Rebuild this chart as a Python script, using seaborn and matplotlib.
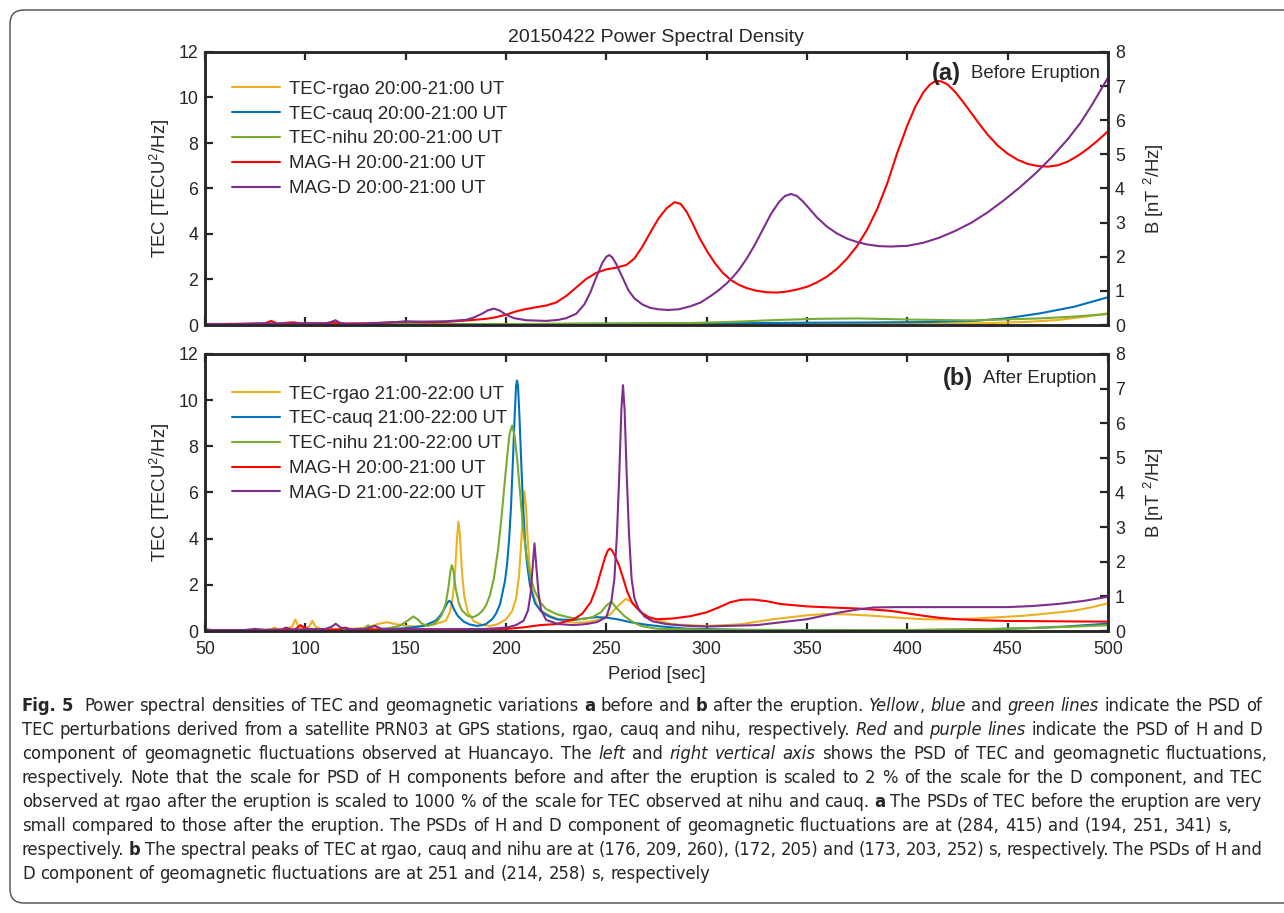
import re
import numpy as np
import pandas as pd
import matplotlib
matplotlib.use("Agg")
import matplotlib.pyplot as plt
import seaborn as sns
from matplotlib import font_manager
from matplotlib.patches import FancyBboxPatch
from matplotlib.lines import Line2D
from matplotlib.transforms import IdentityTransform

# ---------------- data ----------------
# Panel (a): before eruption. TEC in TECU^2/Hz (left axis), MAG in nT^2/Hz (right axis)
P_RGAO_A = [50, 70, 90, 110, 130, 150, 170, 190, 210, 230, 250, 270, 282, 300, 330, 360, 390, 420, 440, 460, 475, 490, 500]
V_RGAO_A = [0.02, 0.03, 0.03, 0.03, 0.03, 0.04, 0.04, 0.04, 0.04, 0.05, 0.05, 0.07, 0.09, 0.06, 0.05, 0.05, 0.05, 0.06, 0.08, 0.14, 0.22, 0.38, 0.52]

P_CAUQ_A = [50, 80, 110, 140, 170, 200, 230, 260, 290, 320, 350, 380, 410, 433, 449, 466, 483, 500]
V_CAUQ_A = [0.01, 0.02, 0.02, 0.03, 0.03, 0.04, 0.05, 0.06, 0.07, 0.08, 0.1, 0.11, 0.13, 0.18, 0.29, 0.51, 0.8, 1.22]

P_NIHU_A = [50, 80, 110, 140, 170, 200, 230, 260, 290, 316, 335, 355, 375, 400, 433, 466, 483, 500]
V_NIHU_A = [0.02, 0.02, 0.03, 0.03, 0.03, 0.04, 0.05, 0.06, 0.08, 0.15, 0.22, 0.27, 0.29, 0.24, 0.2, 0.29, 0.37, 0.48]

P_MAGH_A = [50, 60, 70, 80, 83, 86, 90, 94, 97, 100, 110, 115, 120, 130, 140, 150, 160, 170, 180, 190,
            195, 200, 205, 210, 215, 220, 225, 230, 235, 240, 245, 250, 255, 260, 264, 268, 272, 276, 280, 284,
            287, 290, 293, 296, 300, 304, 308, 312, 316, 320, 325, 330, 335, 340, 345, 350, 355, 360, 365, 370,
            375, 380, 385, 390, 395, 400, 404, 408, 411, 414, 417, 420, 424, 428, 432, 436, 440, 445, 450, 455,
            460, 465, 470, 475, 480, 485, 490, 495, 500]
V_MAGH_A = [0.03, 0.03, 0.04, 0.05, 0.12, 0.04, 0.06, 0.08, 0.05, 0.05, 0.05, 0.07, 0.04, 0.05, 0.07, 0.1, 0.08, 0.09, 0.13, 0.18,
            0.23, 0.3, 0.4, 0.47, 0.52, 0.57, 0.66, 0.85, 1.1, 1.35, 1.53, 1.63, 1.68, 1.76, 1.95, 2.3, 2.72, 3.12, 3.42, 3.6,
            3.55, 3.32, 2.98, 2.6, 2.18, 1.82, 1.53, 1.32, 1.18, 1.08, 1.0, 0.96, 0.95, 0.98, 1.04, 1.12, 1.25, 1.42, 1.65, 1.95,
            2.32, 2.8, 3.4, 4.15, 5.05, 5.85, 6.4, 6.82, 7.03, 7.15, 7.14, 7.05, 6.82, 6.52, 6.2, 5.88, 5.58, 5.26, 5.02, 4.84,
            4.72, 4.66, 4.64, 4.68, 4.79, 4.96, 5.17, 5.41, 5.68]

P_MAGD_A = [50, 60, 70, 80, 90, 100, 110, 113, 115, 117, 120, 130, 140, 150, 160, 170, 180, 184, 188, 191,
            194, 197, 200, 204, 210, 220, 226, 230, 235, 239, 242, 245, 248, 250, 251.5, 253, 255, 258, 261, 264,
            268, 272, 276, 281, 286, 292, 297, 302, 306, 310, 313, 316, 320, 324, 328, 332, 336, 339, 342, 345,
            348, 351, 355, 360, 365, 370, 375, 380, 386, 392, 400, 408, 416, 424, 432, 440, 448, 456, 464, 472,
            480, 486, 492, 496, 500]
V_MAGD_A = [0.03, 0.02, 0.03, 0.05, 0.04, 0.05, 0.05, 0.09, 0.14, 0.07, 0.04, 0.04, 0.07, 0.1, 0.1, 0.11, 0.15, 0.22, 0.33, 0.43,
            0.48, 0.42, 0.3, 0.2, 0.14, 0.12, 0.15, 0.2, 0.33, 0.6, 0.95, 1.4, 1.82, 2.0, 2.05, 1.98, 1.78, 1.4, 1.02, 0.78,
            0.6, 0.5, 0.46, 0.44, 0.46, 0.55, 0.66, 0.85, 1.02, 1.22, 1.4, 1.61, 1.95, 2.35, 2.8, 3.25, 3.6, 3.78, 3.84, 3.78,
            3.62, 3.42, 3.15, 2.88, 2.68, 2.53, 2.43, 2.36, 2.31, 2.3, 2.32, 2.41, 2.56, 2.76, 3.0, 3.3, 3.65, 4.03, 4.45, 4.92,
            5.45, 5.9, 6.45, 6.85, 7.25]

# Panel (b): after eruption
P_RGAO_B = [50, 60, 70, 80, 83, 84.7, 86.5, 90, 93.5, 95, 96.5, 99, 102, 103.5, 105, 108, 115, 125, 132, 136,
            140.5, 145, 150, 155, 160, 165, 170, 172, 173.5, 174.5, 175.5, 176.3, 177, 178, 179.2, 181, 184, 188, 192, 196,
            200, 203, 205, 206.5, 207.7, 208.5, 209.2, 209.9, 210.8, 212, 213.5, 215.5, 218, 222, 228, 234, 240, 247, 252, 256,
            259.7, 263, 267, 272, 283, 300, 317, 333, 350, 358, 370, 383, 395, 408, 420, 433, 446, 458, 470, 483,
            492, 500]
V_RGAO_B = [0.02, 0.03, 0.04, 0.05, 0.08, 0.15, 0.06, 0.06, 0.2, 0.5, 0.2, 0.1, 0.2, 0.44, 0.2, 0.08, 0.08, 0.1, 0.18, 0.3,
            0.38, 0.3, 0.22, 0.2, 0.22, 0.3, 0.45, 0.8, 1.5, 2.4, 3.9, 4.74, 4.2, 2.6, 1.5, 0.8, 0.42, 0.27, 0.22, 0.3,
            0.5, 0.85, 1.4, 2.4, 4.0, 5.3, 6.06, 5.4, 4.0, 2.5, 1.6, 1.1, 0.85, 0.65, 0.45, 0.36, 0.38, 0.5, 0.72, 1.1,
            1.39, 1.25, 0.85, 0.55, 0.29, 0.22, 0.29, 0.51, 0.68, 0.73, 0.72, 0.66, 0.58, 0.51, 0.5, 0.54, 0.6, 0.66, 0.76, 0.88,
            1.03, 1.2]

P_CAUQ_B = [50, 80, 100, 120, 134, 150, 159, 165, 167.5, 169.5, 171, 171.8, 172.8, 174, 176, 179, 182, 185.5, 188, 190,
            193, 195, 197, 199.5, 200.5, 201.5, 202.5, 203.5, 204.3, 205, 205.5, 206, 206.7, 207.5, 208.5, 209.5, 210.5, 212, 214.5, 217.5,
            221, 225.5, 233.8, 240, 245, 250, 256, 262, 270, 277, 290, 320, 360, 400, 430, 460, 480, 500]
V_CAUQ_B = [0.01, 0.02, 0.03, 0.04, 0.07, 0.12, 0.22, 0.45, 0.7, 1.0, 1.25, 1.31, 1.22, 0.95, 0.65, 0.4, 0.28, 0.22, 0.25, 0.3,
            0.5, 0.75, 1.15, 2.17, 2.87, 3.9, 5.4, 7.5, 9.3, 10.6, 10.85, 10.6, 9.3, 7.5, 5.4, 3.9, 2.9, 1.95, 1.2, 0.85,
            0.65, 0.5, 0.48, 0.55, 0.6, 0.58, 0.5, 0.38, 0.27, 0.2, 0.1, 0.05, 0.04, 0.04, 0.06, 0.12, 0.2, 0.32]

P_NIHU_B = [50, 80, 100, 120, 127, 129.5, 131.3, 133, 140, 146, 148, 151, 153.8, 156, 158, 161, 164, 166, 168, 170,
            171.5, 172.3, 173, 173.8, 175, 176.5, 178, 181, 183.8, 186, 188, 190, 192, 194, 196, 197.5, 199, 200.5, 201.7, 203,
            204.2, 205.5, 207, 208.5, 210, 212, 214, 217, 220, 225.5, 232, 238.8, 243, 247.2, 250, 252.5, 255, 258.8, 263, 267.2,
            275, 300, 350, 400, 450, 480, 500]
V_NIHU_B = [0.02, 0.03, 0.05, 0.06, 0.07, 0.1, 0.25, 0.1, 0.1, 0.2, 0.28, 0.45, 0.63, 0.5, 0.32, 0.22, 0.3, 0.45, 0.7, 1.2,
            2.0, 2.6, 2.85, 2.6, 1.8, 1.2, 0.9, 0.65, 0.6, 0.7, 0.85, 1.1, 1.55, 2.3, 3.5, 4.7, 6.1, 7.5, 8.5, 8.9,
            8.5, 7.5, 6.0, 4.5, 3.4, 2.4, 1.8, 1.25, 0.95, 0.72, 0.58, 0.51, 0.6, 0.8, 1.1, 1.27, 1.0, 0.66, 0.4, 0.22,
            0.1, 0.05, 0.03, 0.04, 0.1, 0.18, 0.25]

P_MAGH_B = [50, 80, 95, 97.5, 100, 103, 110, 117, 120, 123, 140, 160, 180, 200, 208, 217, 225, 233.8, 238, 242.2,
            245, 247.2, 249.5, 250.7, 251.7, 252.8, 254, 256.3, 258.5, 260.5, 263, 267.2, 271, 275, 283, 292, 300, 306, 311.7, 317,
            323, 330, 336.7, 350, 362, 375, 383, 391.7, 400, 408, 416, 425, 437, 450, 475, 500]
V_MAGH_B = [0.02, 0.03, 0.05, 0.17, 0.08, 0.05, 0.04, 0.04, 0.1, 0.04, 0.04, 0.05, 0.05, 0.06, 0.1, 0.17, 0.2, 0.34, 0.5, 0.83,
            1.25, 1.7, 2.15, 2.32, 2.38, 2.33, 2.2, 1.9, 1.5, 1.12, 0.8, 0.54, 0.4, 0.34, 0.36, 0.43, 0.54, 0.68, 0.83, 0.9,
            0.91, 0.86, 0.78, 0.71, 0.68, 0.65, 0.62, 0.58, 0.51, 0.44, 0.38, 0.34, 0.31, 0.29, 0.28, 0.27]

P_MAGD_B = [50, 55, 70, 75, 80, 88, 90.5, 93, 100, 110, 113, 115.2, 117.5, 122, 130, 134.7, 138, 150, 170, 190,
            200.5, 205, 208.8, 211, 212.3, 213.2, 214.2, 215.2, 216.2, 217.5, 220, 226, 233.8, 240, 245.5, 250, 252.5, 254, 255.3, 256.5,
            257.5, 258.3, 259.1, 260.1, 261.3, 262.6, 264, 266, 269, 273, 280, 290, 300, 325, 350, 358, 366.7, 375, 383.3, 395,
            408, 430, 450, 462, 475, 488, 500]
V_MAGD_B = [0.05, 0.02, 0.03, 0.06, 0.03, 0.04, 0.1, 0.04, 0.05, 0.06, 0.12, 0.21, 0.1, 0.05, 0.06, 0.15, 0.06, 0.05, 0.05, 0.06,
            0.1, 0.17, 0.3, 0.6, 1.1, 1.8, 2.53, 1.8, 1.1, 0.6, 0.32, 0.2, 0.17, 0.2, 0.26, 0.4, 0.85, 1.5, 2.8, 4.6,
            6.4, 7.1, 6.4, 4.6, 2.8, 1.5, 0.95, 0.65, 0.42, 0.28, 0.2, 0.15, 0.13, 0.17, 0.34, 0.44, 0.54, 0.62, 0.68, 0.69,
            0.69, 0.69, 0.69, 0.72, 0.78, 0.87, 0.99]

LABELS_A = ["TEC-rgao 20:00-21:00 UT", "TEC-cauq 20:00-21:00 UT", "TEC-nihu 20:00-21:00 UT",
            "MAG-H 20:00-21:00 UT", "MAG-D 20:00-21:00 UT"]
LABELS_B = ["TEC-rgao 21:00-22:00 UT", "TEC-cauq 21:00-22:00 UT", "TEC-nihu 21:00-22:00 UT",
            "MAG-H 20:00-21:00 UT", "MAG-D 21:00-22:00 UT"]
X_TICKS = [50, 100, 150, 200, 250, 300, 350, 400, 450, 500]
TEC_TICKS = [0, 2, 4, 6, 8, 10, 12]
B_TICKS = [0, 1, 2, 3, 4, 5, 6, 7, 8]

CAPTION = [
    "**Fig. 5**  Power spectral densities of TEC and geomagnetic variations **a** before and **b** after the eruption. *Yellow*, *blue* and *green lines* indicate the PSD of",
    "TEC perturbations derived from a satellite PRN03 at GPS stations, rgao, cauq and nihu, respectively. *Red* and *purple lines* indicate the PSD of H and D",
    "component of geomagnetic fluctuations observed at Huancayo. The *left* and *right vertical axis* shows the PSD of TEC and geomagnetic fluctuations,",
    "respectively. Note that the scale for PSD of H components before and after the eruption is scaled to 2 % of the scale for the D component, and TEC",
    "observed at rgao after the eruption is scaled to 1000 % of the scale for TEC observed at nihu and cauq. **a** The PSDs of TEC before the eruption are very",
    "small compared to those after the eruption. The PSDs of H and D component of geomagnetic fluctuations are at (284, 415) and (194, 251, 341) s,",
    "respectively. **b** The spectral peaks of TEC at rgao, cauq and nihu are at (176, 209, 260), (172, 205) and (173, 203, 252) s, respectively. The PSDs of H and",
    "D component of geomagnetic fluctuations are at 251 and (214, 258) s, respectively",
]

COLORS = ["#EDB120", "#0072BD", "#77AC30", "#FF0000", "#7E2F8E"]

# ---------------- style ----------------
sns.set_style("ticks")
fonts = font_manager.fontManager.ttflist
available = {f.name for f in fonts}
MAIN = "Liberation Sans" if "Liberation Sans" in available else "DejaVu Sans"
CAP_STRETCH = "normal"
if "Liberation Sans Narrow" in available:
    CAPF = "Liberation Sans Narrow"
elif any(f.name == "DejaVu Sans" and str(f.stretch) in ("condensed", "semi-condensed") for f in fonts):
    CAPF = "DejaVu Sans"
    CAP_STRETCH = "condensed"
else:
    CAPF = MAIN
plt.rcParams["font.family"] = [MAIN, "DejaVu Sans"]
plt.rcParams["mathtext.fontset"] = "custom"
plt.rcParams["mathtext.rm"] = MAIN
plt.rcParams["mathtext.it"] = MAIN + ":italic"
plt.rcParams["mathtext.bf"] = MAIN + ":bold"
plt.rcParams["mathtext.default"] = "regular"

W, H = 1284, 913
fig = plt.figure(figsize=(W / 100, H / 100), dpi=100)
fig.patch.set_facecolor("white")

AXC = "#262626"
FS = 13.3
TFS = 12.8
LW = 1.5


def fx(px):
    return px / W


def fy(py):
    return 1 - py / H


def make_panel(rect, tec, mag, labels, tag, tagtext, tag_x, text_x, tag_y, leg_top, show_xlabels):
    ax = fig.add_axes(rect)
    ax2 = ax.twinx()
    handles = []
    for (p, v), col in zip(tec, COLORS[:3]):
        df = pd.DataFrame({"Period": p, "PSD": v})
        sns.lineplot(data=df, x="Period", y="PSD", ax=ax, color=col, lw=LW, errorbar=None, legend=False)
        handles.append(Line2D([], [], color=col, lw=LW))
    for (p, v), col in zip(mag, COLORS[3:]):
        df = pd.DataFrame({"Period": p, "PSD": v})
        sns.lineplot(data=df, x="Period", y="PSD", ax=ax2, color=col, lw=LW, errorbar=None, legend=False)
        handles.append(Line2D([], [], color=col, lw=LW))
    ax.set_xlim(50, 500)
    ax.set_ylim(0, 12)
    ax2.set_ylim(0, 8)
    ax.set_xticks(X_TICKS)
    ax.set_yticks(TEC_TICKS)
    ax2.set_yticks(B_TICKS)
    for a in (ax, ax2):
        for s in a.spines.values():
            s.set_linewidth(1.8)
            s.set_color(AXC)
    ax.tick_params(axis="x", direction="in", top=True, bottom=True, length=6, width=1.6,
                   color=AXC, labelsize=TFS, pad=7, labelbottom=show_xlabels)
    ax.tick_params(axis="y", direction="in", left=True, right=False, length=6, width=1.6,
                   color=AXC, labelsize=TFS, pad=5)
    ax2.tick_params(axis="y", direction="in", right=True, length=6, width=1.6,
                    color=AXC, labelsize=TFS, pad=5)
    ax.set_ylabel("TEC [TECU$^2$/Hz]", fontsize=FS)
    ax.yaxis.set_label_coords(-0.036, 0.5)
    ax2.set_ylabel("B [nT $^2$/Hz]", fontsize=FS)
    ax2.yaxis.set_label_coords(1.037, 0.5)
    if show_xlabels:
        ax.set_xlabel("Period [sec]", fontsize=FS)
        ax.xaxis.set_label_coords(0.5, -0.127)
    else:
        ax.set_xlabel("")
    ax2.legend(handles, labels, loc="upper left", bbox_to_anchor=(0.03, leg_top), frameon=False,
               fontsize=13.4, handlelength=2.6, handletextpad=0.45, labelspacing=0.42,
               borderpad=0, borderaxespad=0)
    ax2.text(tag_x, tag_y, tag, transform=ax2.transAxes, fontsize=17, fontweight="bold",
             ha="left", va="center")
    ax2.text(text_x, tag_y, tagtext, transform=ax2.transAxes,
             fontsize=13.4, ha="left", va="center")
    return ax, ax2


left, right = 205, 1108
axw = fx(right - left)
make_panel([fx(left), fy(325), axw, (325 - 52) / H],
           [(P_RGAO_A, V_RGAO_A), (P_CAUQ_A, V_CAUQ_A), (P_NIHU_A, V_NIHU_A)],
           [(P_MAGH_A, V_MAGH_A), (P_MAGD_A, V_MAGD_A)],
           LABELS_A, "(a)", "Before Eruption", 0.805, 0.848, 0.922, 0.895, False)
make_panel([fx(left), fy(631), axw, (631 - 354) / H],
           [(P_RGAO_B, V_RGAO_B), (P_CAUQ_B, V_CAUQ_B), (P_NIHU_B, V_NIHU_B)],
           [(P_MAGH_B, V_MAGH_B), (P_MAGD_B, V_MAGD_B)],
           LABELS_B, "(b)", "After Eruption", 0.817, 0.862, 0.912, 0.886, True)

fig.text(fx(656), fy(37), "20150422 Power Spectral Density", ha="center", va="center", fontsize=14)

# rounded frame around the figure + caption
frame = FancyBboxPatch((10, 10), 1320, 893, boxstyle="round,pad=0,rounding_size=14",
                       transform=IdentityTransform(), fill=False, ec="#5a5a5a", lw=1.1)
fig.add_artist(frame)

renderer = fig.canvas.get_renderer()


def tokens(line):
    items = []
    for seg in re.split(r"(\*\*.+?\*\*|\*.+?\*)", line):
        if not seg:
            continue
        if seg.startswith("**"):
            st, txt = "b", seg[2:-2]
        elif seg.startswith("*"):
            st, txt = "i", seg[1:-1]
        else:
            st, txt = "n", seg
        for part in re.findall(r" +|[^ ]+", txt):
            if part.startswith(" "):
                items.append(("sp", len(part)))
            else:
                items.append((st, part))
    return items


def style_kw(st, size):
    return dict(fontsize=size, family=[CAPF, "DejaVu Sans"], fontstretch=CAP_STRETCH,
                fontweight="bold" if st == "b" else "normal",
                fontstyle="italic" if st == "i" else "normal")


def measure(txt, st, size):
    t = fig.text(0, 0, txt, **style_kw(st, size))
    w = t.get_window_extent(renderer).width
    t.remove()
    return w


def space_w(size):
    return measure("n n", "n", size) - measure("nn", "n", size)


def natural(items, size):
    sw = space_w(size)
    tot, nsp = 0.0, 0
    for st, v in items:
        if st == "sp":
            tot += v * sw
            nsp += v
        else:
            tot += measure(v, st, size)
    return tot, nsp


X0 = 22
TARGETS = [1262, 1262, 1268, 1262, 1262, 1232, 1262, None]
lines = [tokens(l) for l in CAPTION]
w1, _ = natural(lines[0], 10)
CAP_SIZE = min(10 * (1236 / w1), 14.0)
sw = space_w(CAP_SIZE)
for i, items in enumerate(lines):
    tot, nsp = natural(items, CAP_SIZE)
    extra = 0.0
    if TARGETS[i] is not None and nsp:
        extra = (TARGETS[i] - X0 - tot) / nsp
        extra = max(-2.0, min(3.0, extra))
    cx = X0
    base = 711 + 24 * i
    for st, v in items:
        if st == "sp":
            cx += v * (sw + extra)
        else:
            t = fig.text(fx(cx), fy(base), v, va="baseline", ha="left", **style_kw(st, CAP_SIZE))
            cx += t.get_window_extent(renderer).width

fig.savefig("out.png", dpi=100, facecolor="white")
